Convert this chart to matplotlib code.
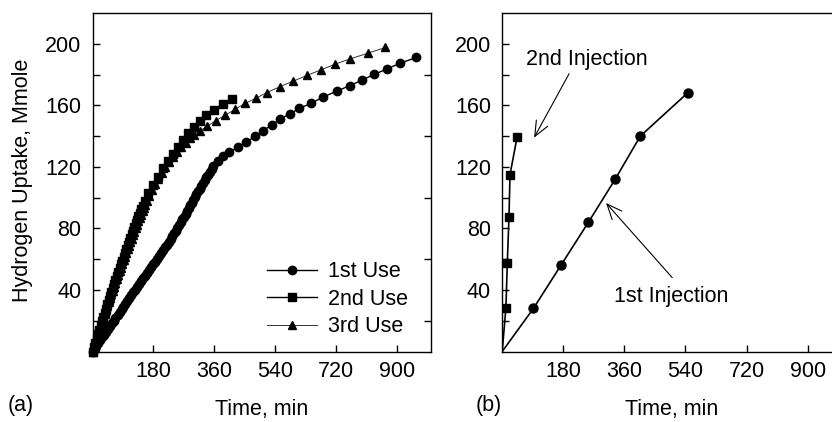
import matplotlib.pyplot as plt

plt.rcParams['font.family'] = ['Liberation Sans', 'DejaVu Sans']
plt.rcParams['font.size'] = 15.5

# —— panel (a): hydrogen uptake per catalyst use —— #
use1_t = [0, 6, 11, 17, 22, 28, 34, 40, 45, 51, 57, 63, 68, 74, 80, 86, 91, 97, 103,
          109, 114, 120, 126, 132, 138, 144, 150, 156, 162, 168, 174, 180, 186, 192,
          198, 204, 209, 215, 220, 226, 231, 236, 241, 246, 251, 256, 261, 266, 270,
          275, 280, 285, 289, 294, 298, 303, 307, 312, 317, 322, 327, 332, 337, 342,
          347, 352, 357,
          370, 385, 405, 429, 454, 481, 505, 530, 555, 583, 612, 647, 683, 722, 760,
          797, 833, 871, 910, 958]
use1_v = [0, 1.8, 3.7, 5.5, 7.3, 9.2, 11.0, 12.8, 14.6, 16.5, 18.3, 20.1, 21.9, 23.8,
          25.6, 27.4, 29.2, 31.1, 32.9, 34.7, 36.5, 38.4, 40.2, 42.0, 43.8, 45.7, 47.5,
          49.3, 51.1, 53.0, 54.8, 56.6, 58.4, 60.3, 62.1, 63.9, 65.7, 67.6, 69.4, 71.2,
          73.0, 74.9, 76.7, 78.5, 80.3, 82.2, 84.0, 85.8, 87.6, 89.5, 91.3, 93.1, 94.9,
          96.8, 98.6, 100.4, 102.2, 104.1, 105.9, 107.7, 109.5, 111.4, 113.2, 115.0,
          116.8, 118.6, 120.4,
          123.6, 126.8, 129.4, 132.7, 136.1, 139.8, 143.5, 147.4, 151.0, 154.5, 158.0,
          161.4, 165.5, 169.2, 172.7, 176.4, 180.1, 183.7, 187.4, 191.1]

use2_t = [0, 4, 8, 12, 16, 20, 24, 28, 32, 36, 40, 44, 48, 52, 56, 60, 64, 68, 72, 76,
          80, 84, 88, 92, 96, 100, 104, 108, 112, 116, 120, 124, 128, 132, 136, 140,
          144, 148, 154, 164, 179, 194, 209, 223, 238, 253, 268, 283, 300, 317, 337,
          359, 386, 413]
use2_v = [0, 2.9, 5.7, 8.6, 11.4, 14.2, 17.0, 19.7, 22.5, 25.2, 27.9, 30.6, 33.3, 35.9,
          38.6, 41.2, 43.8, 46.4, 49.0, 51.5, 54.1, 56.6, 59.1, 61.6, 64.1, 66.5, 68.9,
          71.3, 73.7, 76.1, 78.5, 80.8, 83.2, 85.5, 87.8, 90.0, 92.3, 94.5, 97.5, 102.9,
          108.3, 113.7, 119.2, 123.5, 128.5, 133.2, 137.6, 141.9, 146.2, 150.1, 153.8,
          157.1, 161.0, 164.2]

use3_t = [0, 4, 8, 12, 16, 20, 24, 28, 32, 36, 40, 44, 48, 52, 56, 60, 64, 68, 72, 76,
          80, 84, 88, 92, 96, 100, 104, 108, 112, 116, 120, 124, 128, 132, 136, 140,
          144, 148, 152, 156, 160, 168, 177, 186, 195, 205, 215, 226, 238, 250, 263,
          276, 289, 300, 318, 340, 364, 393, 422, 451, 484, 516, 555, 593, 634, 676,
          718, 762, 815, 866]
use3_v = [0, 2.8, 5.5, 8.2, 10.9, 13.6, 16.3, 18.9, 21.6, 24.2, 26.8, 29.4, 32.0, 34.5,
          37.1, 39.6, 42.1, 44.6, 47.1, 49.5, 52.0, 54.4, 56.8, 59.2, 61.6, 64.0, 66.4,
          68.7, 71.0, 73.3, 75.6, 77.9, 80.1, 82.4, 84.6, 86.8, 89.0, 91.2, 93.3, 95.5,
          97.6, 100.8, 104.8, 108.6, 112.3, 116.0, 119.6, 123.0, 126.4, 129.6, 132.8,
          135.8, 138.6, 141.0, 143.5, 146.5, 150.0, 153.6, 157.5, 161.2, 164.7, 168.3,
          172.2, 175.7, 179.4, 183.1, 186.8, 190.2, 193.9, 197.6]

# —— panel (b): injections —— #
inj1_t = [0, 92, 173, 254, 333, 407, 546]
inj1_v = [0, 28, 56, 84, 112, 140, 168]
inj2_t = [0, 11, 15, 20, 23, 44]
inj2_v = [0, 28.5, 57.5, 87.5, 115, 139.5]

W, H = 832, 422
fig = plt.figure(figsize=(W / 100, H / 100), dpi=100)


def px_axes(x0, x1, y0, y1):
    return fig.add_axes([x0 / W, 1 - y1 / H, (x1 - x0) / W, (y1 - y0) / H])


ax1 = px_axes(92.5, 430.7, 13, 351.5)
ax2 = px_axes(502.2, 841.6, 13, 351.5)

for ax in (ax1, ax2):
    ax.set_xlim(0, 1000)
    ax.set_ylim(0, 220)
    ax.set_xticks([180, 360, 540, 720, 900])
    ax.set_yticks([40, 80, 120, 160, 200])
    ax.set_yticks([20, 60, 100, 140, 180], minor=True)
    ax.tick_params(which='both', direction='in', length=5, width=1, color='black')
    ax.tick_params(axis='x', pad=7)
    ax.tick_params(axis='y', pad=8)
    for s in ax.spines.values():
        s.set_linewidth(1.0)
        s.set_color('black')

ax1.tick_params(axis='y', which='minor', right=True)

ax1.plot(use1_t, use1_v, color='black', lw=1.0, marker='o', ms=6, label='1st Use', clip_on=False)
ax1.plot(use2_t, use2_v, color='black', lw=1.0, marker='s', ms=5.5, label='2nd Use', clip_on=False)
ax1.plot(use3_t, use3_v, color='#333333', lw=0.7, marker='^', ms=6, mfc='black', mec='black',
         label='3rd Use', clip_on=False)
ax1.legend(loc='upper left', bbox_to_anchor=(0.516, 0.267), frameon=False, borderpad=0,
           borderaxespad=0, handlelength=2.3, handletextpad=0.55, labelspacing=0.3)

ax2.plot(inj2_t, inj2_v, color='black', lw=1.2, marker='s', ms=5.5, markevery=slice(1, None))
ax2.plot(inj1_t, inj1_v, color='black', lw=1.2, marker='o', ms=6.5, markevery=slice(1, None))

arrow = dict(arrowstyle='->,head_length=0.7,head_width=0.3', color='black', lw=0.8,
             shrinkA=0, shrinkB=0)
ax2.annotate('', xy=(94, 139), xytext=(197, 180.5), arrowprops=arrow)
ax2.annotate('', xy=(306, 96.5), xytext=(501, 48), arrowprops=arrow)
ax2.text(249, 189.6, '2nd Injection', ha='center', va='center')
ax2.text(499, 35.6, '1st Injection', ha='center', va='center')

fig.text(23 / W, 1 - 180 / H, 'Hydrogen Uptake, Mmole', rotation=90, ha='center', va='center')
fig.text(262 / W, 1 - 409 / H, 'Time, min', ha='center', va='center')
fig.text(672 / W, 1 - 409 / H, 'Time, min', ha='center', va='center')
fig.text(21 / W, 1 - 406 / H, '(a)', ha='center', va='center')
fig.text(489 / W, 1 - 406 / H, '(b)', ha='center', va='center')

fig.savefig('out.png', dpi=100)
